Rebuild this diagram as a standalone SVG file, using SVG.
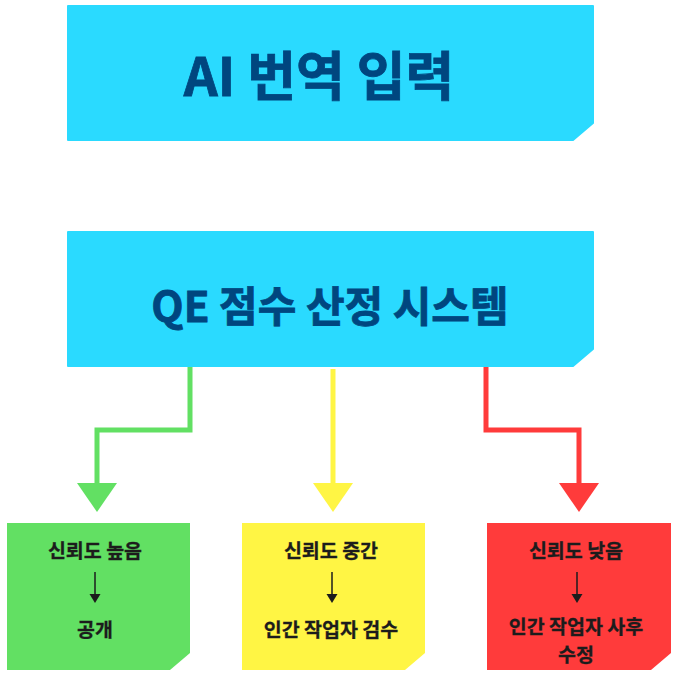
<svg xmlns="http://www.w3.org/2000/svg" width="679" height="676" viewBox="0 0 679 676">
<style>
.big{font-family:"Noto Sans CJK KR","Noto Sans",sans-serif;font-weight:700;fill:#00467F;stroke:#00467F;stroke-width:0.8;text-anchor:middle;dominant-baseline:central}
.sm{font-family:"Noto Sans CJK KR","Noto Sans",sans-serif;font-weight:700;font-size:19.5px;fill:#1c1c1c;stroke:#1c1c1c;stroke-width:0.3;text-anchor:middle;dominant-baseline:central}
.cyan{fill:#2ADAFF;stroke:#2ADAFF;stroke-width:2;stroke-linejoin:round}
.conn{fill:none;stroke-width:5}
.mini{stroke:#1c1c1c;stroke-width:1.5}
</style>
<rect width="679" height="676" fill="#ffffff"/>
<g id="connectors">
<polyline class="conn" stroke="#62E063" points="190,367 190,430 97,430 97,486"/>
<polygon fill="#62E063" points="77,483 117,483 97,512"/>
<line class="conn" stroke="#FFF544" x1="333" y1="369" x2="333" y2="486"/>
<polygon fill="#FFF544" points="313,483 353,483 333,512"/>
<polyline class="conn" stroke="#FF3B3B" points="486,367 486,430 579,430 579,486"/>
<polygon fill="#FF3B3B" points="559,483 599,483 579,512"/>
</g>
<g id="node-input">
<path class="cyan" d="M68,6 H593 V123 L573,140 H68 Z"/>
<text class="big" x="319" y="73" font-size="53">AI 번역 입력</text>
</g>
<g id="node-qe">
<path class="cyan" d="M68,232 H593 V349 L573,366 H68 Z"/>
<text class="big" x="330" y="303" font-size="42">QE 점수 산정 시스템</text>
</g>
<g id="node-high">
<path d="M7,523 H190 V653 L170,670 H7 Z" fill="#62E063"/>
<text class="sm" x="95" y="549">신뢰도 높음</text>
<line class="mini" x1="95" y1="572" x2="95" y2="596"/>
<polygon fill="#1c1c1c" points="89.5,594 100.5,594 95,603"/>
<text class="sm" x="95" y="628">공개</text>
</g>
<g id="node-mid">
<path d="M242,523 H425 V653 L405,670 H242 Z" fill="#FFF544"/>
<text class="sm" x="331" y="549">신뢰도 중간</text>
<line class="mini" x1="332" y1="572" x2="332" y2="596"/>
<polygon fill="#1c1c1c" points="326.5,594 337.5,594 332,603"/>
<text class="sm" x="331" y="628">인간 작업자 검수</text>
</g>
<g id="node-low">
<path d="M487,523 H671 V653 L651,670 H487 Z" fill="#FF3B3B"/>
<text class="sm" x="576" y="549">신뢰도 낮음</text>
<line class="mini" x1="577" y1="572" x2="577" y2="596"/>
<polygon fill="#1c1c1c" points="571.5,594 582.5,594 577,603"/>
<text class="sm" x="576" y="625" font-size="19"><tspan x="576" y="625">인간 작업자 사후</tspan><tspan x="576" y="653">수정</tspan></text>
</g>
</svg>
